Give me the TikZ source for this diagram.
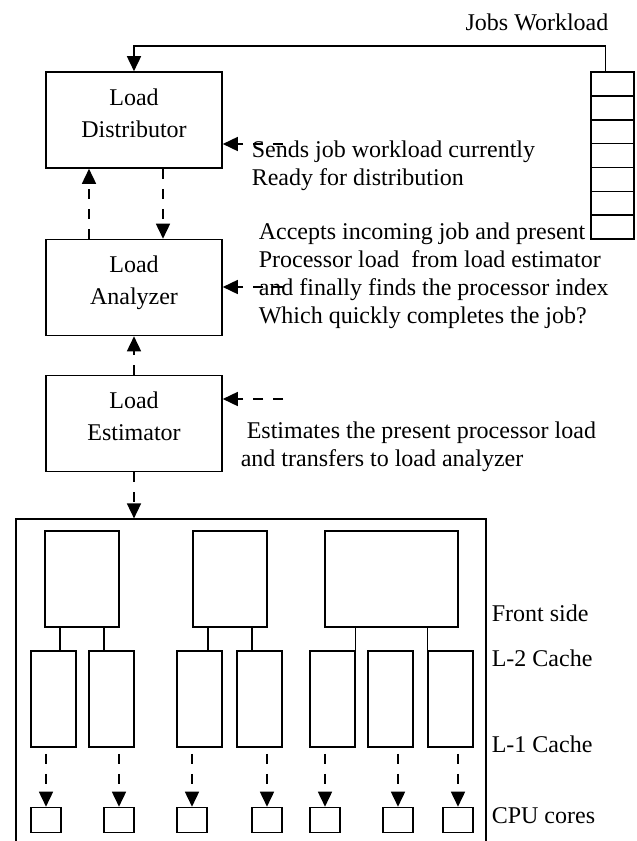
\documentclass[tikz,border=0pt]{standalone}
\usepackage{fontspec}
\setmainfont{Liberation Serif}
\usetikzlibrary{arrows.meta,positioning}

\begin{document}
\begin{tikzpicture}[x=0.5pt,y=-0.5pt,>={Triangle[length=7.5pt,width=7pt]},
line width=0.8pt,
every node/.style={font=\fontsize{12}{14}\selectfont},
node distance=83.75pt]
\tikzstyle{block}=[draw, minimum width=88pt, minimum height=48pt, inner sep=0pt, align=center, text depth=7pt, font=\fontsize{12}{16}\selectfont]
\tikzstyle{note}=[anchor=west, inner sep=0pt, align=left]
\tikzstyle{tag}=[anchor=west, inner sep=0pt]
\tikzstyle{flow}=[->, dash pattern=on 5pt off 5pt]
\tikzstyle{slot}=[draw, minimum width=21.5pt, minimum height=11.93pt, inner sep=0pt]
\tikzstyle{bus}=[draw, minimum height=48pt, inner sep=0pt]
\tikzstyle{cache}=[draw, minimum width=22.5pt, minimum height=48pt, inner sep=0pt]
\tikzstyle{core}=[draw, minimum width=15pt, minimum height=12.5pt, inner sep=0pt]
\tikzstyle{wire}=[line width=0.6pt]

\path[use as bounding box, clip] (0,0) rectangle (637,841);

% load balancing chain
\node[block] (dist) at (134,120) {Load\\Distributor};
\node[block, below of=dist] (ana) {Load\\Analyzer};
\node[block, node distance=68pt, below of=ana] (est) {Load\\Estimator};

% job queue
\node (jobs) at (537,22) {Jobs Workload};
\foreach \i in {1,...,7}
  \node[slot] (q\i) at (612.5,{72+23.86*(\i-0.5)}) {};
\draw[->] ([xshift=-3.5pt]q1.north) -- ++(0,-25) -| (dist.north);

% descriptions
\node[note] (sends) at (251,166) {Sends job workload currently\\Ready for distribution};
\node[note] (accepts) at (258,275.5) {Accepts incoming job and present\\Processor load~ from load estimator\\and finally finds the processor index\\Which quickly completes the job?};
\node[note] (estimates) at (240,446.5) {\ Estimates the present processor load\\and transfers to load analyzer};

\coordinate (in1) at (283,144);
\coordinate (in2) at (283,287);
\coordinate (in3) at (283,399);
\draw[flow] (in1) -- (in1 -| dist.east);
\draw[flow] (in2) -- (in2 -| ana.east);
\draw[flow] (in3) -- (in3 -| est.east);

\draw[flow] ([xshift=-22.5pt]ana.north) -- ([xshift=-22.5pt]dist.south);
\draw[flow] ([xshift=14.5pt]dist.south) -- ([xshift=14.5pt]ana.north);
\draw[flow] (est) -- (ana);

% processor
\node[draw, line width=0.6pt, minimum width=235pt, minimum height=166pt] (cluster) at (251,685) {};
\draw[flow] (est.south) -- (est.south |- cluster.north);

\node[bus, minimum width=37pt] (fsb1) at (82,579) {};
\node[bus, minimum width=37pt] (fsb2) at (230,579) {};
\node[bus, minimum width=66.5pt] (fsb3) at (391.5,579) {};

\node[cache] (lc1) at (53.5,699) {};
\node[cache] (lc2) at (111.5,699) {};
\node[cache] (lc3) at (199.5,699) {};
\node[cache] (lc4) at (259.5,699) {};
\node[cache] (lc5) at (332.5,699) {};
\node[cache] (lc6) at (390.5,699) {};
\node[cache] (lc7) at (450.5,699) {};

\draw[wire] (fsb1.south -| 60,0) -- (lc1.north -| 60,0);
\draw[wire] (fsb1.south -| 104,0) -- (lc2.north -| 104,0);
\draw[wire] (fsb2.south -| 208,0) -- (lc3.north -| 208,0);
\draw[wire] (fsb2.south -| 252,0) -- (lc4.north -| 252,0);
\draw[wire] (fsb3.south -| lc5.north east) -- (lc5.north east);
\draw[wire] (fsb3.south -| lc7.north west) -- (lc7.north west);

\node[core] (core1) at (46,820) {};
\node[core] (core2) at (119,820) {};
\node[core] (core3) at (192,820) {};
\node[core] (core4) at (267,820) {};
\node[core] (core5) at (325,820) {};
\node[core] (core6) at (398,820) {};
\node[core] (core7) at (458,820) {};

\draw[flow] ([yshift=-3pt]core1 |- lc1.south) -- (core1);
\draw[flow] ([yshift=-3pt]core2 |- lc2.south) -- (core2);
\draw[flow] ([yshift=-3pt]core3 |- lc3.south) -- (core3);
\draw[flow] ([yshift=-3pt]core4 |- lc4.south) -- (core4);
\draw[flow] ([yshift=-3pt]core5 |- lc5.south) -- (core5);
\draw[flow] ([yshift=-3pt]core6 |- lc6.south) -- (core6);
\draw[flow] ([yshift=-3pt]core7 |- lc7.south) -- (core7);

\node[tag] (fsl) at (491,613) {Front side};
\node[tag] (l2l) at (491,658) {L-2 Cache};
\node[tag] (l1l) at (491,744) {L-1 Cache};
\node[tag] (cpul) at (491,816) {CPU cores};

\end{tikzpicture}
\end{document}
